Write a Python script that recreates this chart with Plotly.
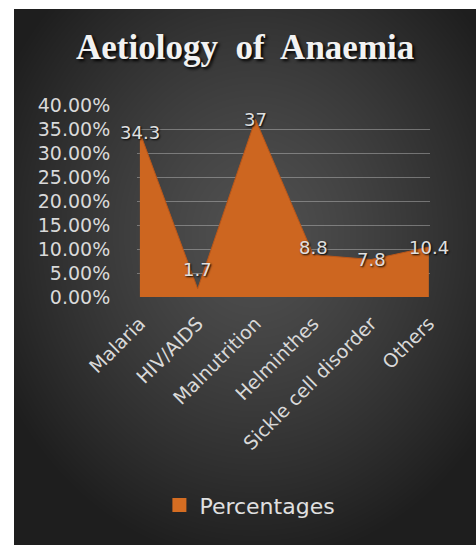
import zlib, struct, base64
import numpy as np
import plotly.graph_objects as go

# ---- data ----
categories = ["Malaria", "HIV/AIDS", "Malnutrition", "Helminthes", "Sickle cell disorder", "Others"]
percentages = [34.3, 1.7, 37, 8.8, 7.8, 10.4]
label_texts = ["34.3", "1.7", "37", "8.8", "7.8", "10.4"]
label_shift = [0, 19, 0, 7, 0, 0]
y_tick_vals = [0, 0.05, 0.10, 0.15, 0.20, 0.25, 0.30, 0.35, 0.40]
y_tick_text = ["0.00%", "5.00%", "10.00%", "15.00%", "20.00%", "25.00%", "30.00%", "35.00%", "40.00%"]
series_name = "Percentages"

W, H = 476, 545
L, R, T, B = 137, 46, 105, 248
PW, PH = W - L - R, H - T - B


def png_data_uri(arr):
    h, w, _ = arr.shape
    raw = b"".join(b"\x00" + arr[i].tobytes() for i in range(h))

    def chunk(t, d):
        c = struct.pack(">I", len(d)) + t + d
        return c + struct.pack(">I", zlib.crc32(t + d) & 0xffffffff)

    png = (b"\x89PNG\r\n\x1a\n"
           + chunk(b"IHDR", struct.pack(">IIBBBBB", w, h, 8, 2, 0, 0, 0))
           + chunk(b"IDAT", zlib.compress(raw, 9))
           + chunk(b"IEND", b""))
    return "data:image/png;base64," + base64.b64encode(png).decode()


# radial gradient background (dark grey)
gw, gh = 462, 536
yy, xx = np.mgrid[0:gh, 0:gw]
cx, cy = gw * 0.52, gh * 0.42
r = np.sqrt(((xx - cx) / (gw * 0.62)) ** 2 + ((yy - cy) / (gh * 0.62)) ** 2)
r = np.clip(r, 0, 1)
v = 80 - 50 * r ** 1.3
img = np.clip(np.stack([v, v, v], axis=-1), 0, 255).astype(np.uint8)
bg_uri = png_data_uri(img)

yvals = [p / 100 for p in percentages]
area_color = "#CD6620"

fig = go.Figure()
fig.add_trace(go.Scatter(
    x=categories, y=yvals, mode="lines", fill="tozeroy",
    fillcolor=area_color, line=dict(color="#B8561A", width=1),
    name=series_name, showlegend=False, hoverinfo="skip",
))
# legend entry (square swatch)
fig.add_trace(go.Scatter(
    x=[None], y=[None], mode="markers", name=series_name,
    marker=dict(symbol="square", size=14, color="#D56D22"), showlegend=True,
))

for c, yv, t, s in zip(categories, yvals, label_texts, label_shift):
    fig.add_annotation(x=c, y=yv, text=t, showarrow=False, yshift=s,
                       font=dict(family="DejaVu Sans", size=18, color="#e0e0e0",
                                 shadow="1px 1px 2px #000"))

px0 = (14 - L) / PW
px1 = (W - L) / PW
py1 = (T + PH - 9) / PH
py0 = -(B) / PH
fig.add_layout_image(dict(source=bg_uri, xref="paper", yref="paper",
                          x=px0, y=py1, sizex=px1 - px0, sizey=py1 - py0,
                          xanchor="left", yanchor="top", sizing="stretch",
                          layer="below"))

fig.update_layout(
    width=W, height=H,
    margin=dict(l=L, r=R, t=T, b=B),
    paper_bgcolor="white", plot_bgcolor="rgba(0,0,0,0)",
    title=dict(text="Aetiology  of  Anaemia", xref="container", x=0.515, xanchor="center",
               yref="container", y=0.914, yanchor="middle",
               font=dict(family="Liberation Serif", size=35, color="#f2f2f2", weight="bold",
                         shadow="2px 2px 3px #000")),
    legend=dict(orientation="h", xref="container", yref="container", x=0.525, y=0.073,
                xanchor="center", yanchor="middle",
                font=dict(family="DejaVu Sans", size=22, color="#e0e0e0"),
                itemwidth=30, bgcolor="rgba(0,0,0,0)"),
    xaxis=dict(range=[-0.05, 5.02], showgrid=False, zeroline=False, showline=False,
               tickangle=-45, ticks="outside", ticklen=7, tickcolor="rgba(0,0,0,0)",
               tickfont=dict(family="DejaVu Sans", size=19, color="#d9d9d9")),
    yaxis=dict(range=[0, 0.40], tickvals=y_tick_vals, ticktext=y_tick_text,
               showgrid=True, gridcolor="rgba(210,210,210,0.4)", gridwidth=1,
               zeroline=False, showline=False,
               ticks="outside", ticklen=22, tickcolor="rgba(0,0,0,0)",
               tickfont=dict(family="DejaVu Sans", size=19, color="#d9d9d9")),
)

fig.write_html("out.html", config={"displayModeBar": False},
               post_script="document.body.style.margin='0';document.body.style.overflow='hidden';")
